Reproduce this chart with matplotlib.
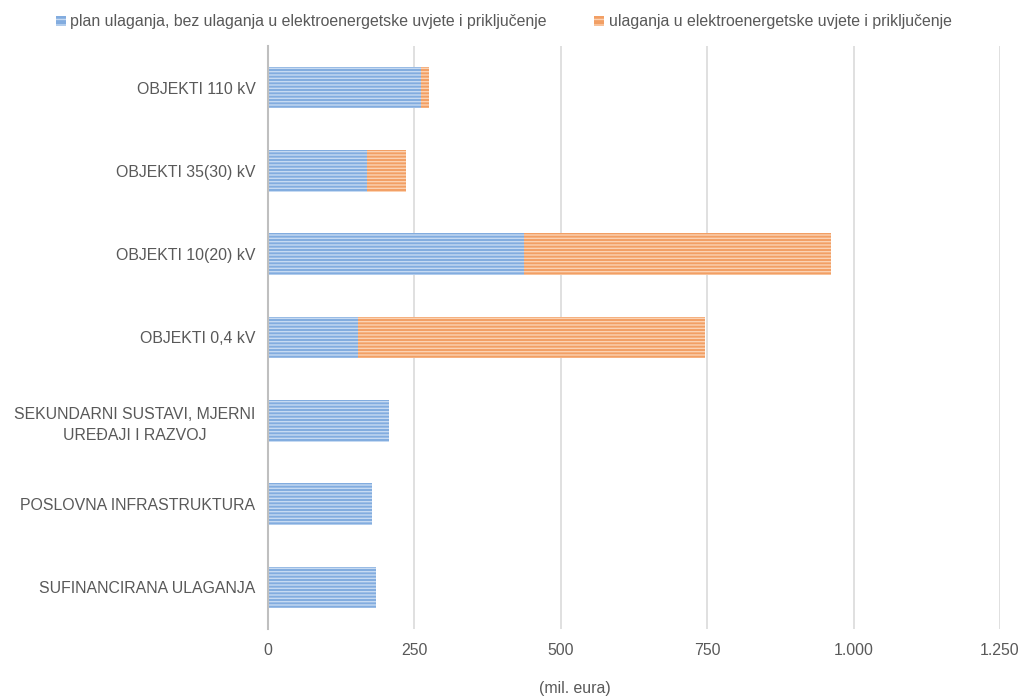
import numpy as np
import matplotlib
matplotlib.use('Agg')
import matplotlib.pyplot as plt
from matplotlib.patches import Patch
from matplotlib.ticker import FuncFormatter

plt.rcParams['font.family'] = ['Liberation Sans', 'DejaVu Sans']
plt.rcParams['hatch.linewidth'] = 1.0

# investment plan by asset group (mil. eura)
categories = ['OBJEKTI 110 kV', 'OBJEKTI 35(30) kV', 'OBJEKTI 10(20) kV',
              'OBJEKTI 0,4 kV', 'SEKUNDARNI SUSTAVI, MJERNI\nUREĐAJI I RAZVOJ',
              'POSLOVNA INFRASTRUKTURA', 'SUFINANCIRANA ULAGANJA']
plan_base = [261, 169, 437, 154, 207, 178, 184]
plan_conn = [14, 67, 524, 592, 0, 0, 0]
series_names = ['plan ulaganja, bez ulaganja u elektroenergetske uvjete i priključenje',
                'ulaganja u elektroenergetske uvjete i priključenje']
x_ticks = [0, 250, 500, 750, 1000, 1250]

BLUE, BLUE_LT = '#82acdf', '#c6daf2'
ORANGE, ORANGE_LT = '#f29f64', '#fbd2b3'
TXT = '#595959'
FS = 11.4

fig = plt.figure(figsize=(10.2, 6.98), dpi=100)
ax = fig.add_axes([0.2627, 0.0989, 0.7177, 0.8352])

y = np.arange(len(categories))
ax.barh(y, plan_base, height=0.5, color=BLUE, edgecolor=BLUE_LT,
        hatch='-----', lw=0, zorder=3)
ax.barh(y, plan_conn, left=plan_base, height=0.5, color=ORANGE,
        edgecolor=ORANGE_LT, hatch='-----', lw=0, zorder=3)

ax.set_xlim(0, 1250)
ax.set_ylim(len(categories) - 0.5, -0.5)
ax.set_xticks(x_ticks)
ax.xaxis.set_major_formatter(FuncFormatter(lambda v, p: f'{v:,.0f}'.replace(',', '.')))
ax.set_yticks(y)
ax.set_yticklabels(categories, ha='right', multialignment='center',
                   linespacing=1.45)
ax.tick_params(axis='both', length=0, colors=TXT, labelsize=FS)
ax.tick_params(axis='y', pad=9)
ax.tick_params(axis='x', pad=10)
ax.grid(axis='x', color='#dadada', lw=1.2, zorder=0)
for s in ['top', 'right', 'bottom']:
    ax.spines[s].set_visible(False)
ax.spines['left'].set_color('#bfbfbf')
ax.spines['left'].set_linewidth(1.5)
ax.spines['left'].set_zorder(4)

fig.text(0.564, 0.003, '(mil. eura)', ha='center', va='bottom',
         color=TXT, fontsize=FS)

handles = [Patch(facecolor=BLUE, edgecolor=BLUE_LT, hatch='---', lw=0),
           Patch(facecolor=ORANGE, edgecolor=ORANGE_LT, hatch='---', lw=0)]
leg = fig.legend(handles, series_names, loc='upper center', ncol=2,
                 bbox_to_anchor=(0.494, 1.0), frameon=False, fontsize=FS,
                 handlelength=0.6, handleheight=0.6, handletextpad=0.3,
                 columnspacing=3.0)
for t in leg.get_texts():
    t.set_color(TXT)

fig.savefig('out.png', dpi=100)
